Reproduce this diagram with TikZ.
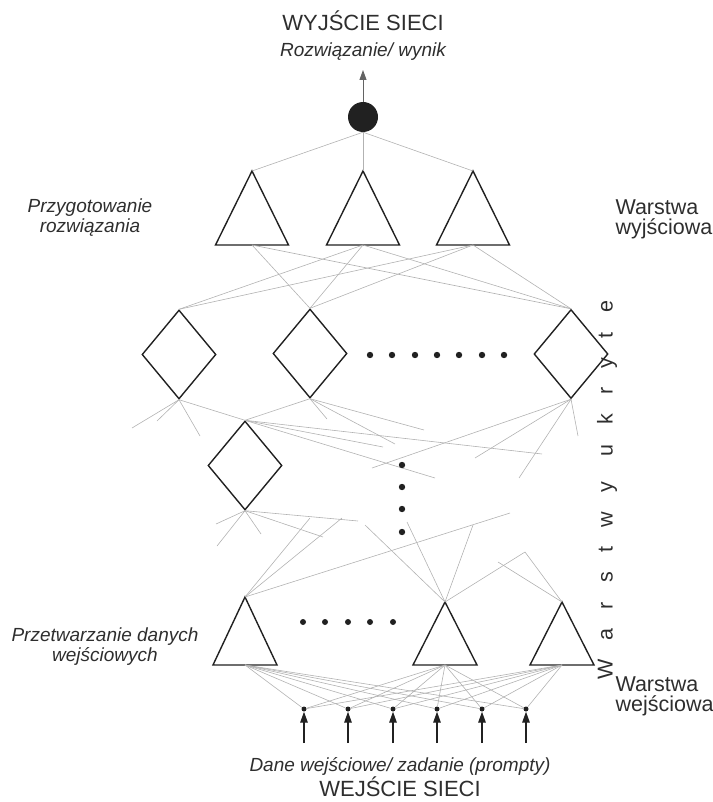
\documentclass[tikz,border=0pt]{standalone}
\usepackage{fontspec}
\setmainfont{Liberation Sans}
\usepackage{tikz}
\usetikzlibrary{arrows.meta,shapes.geometric}
\definecolor{netink}{rgb}{0.13,0.13,0.13}
\definecolor{nettext}{rgb}{0.18,0.18,0.18}
\definecolor{netlink}{rgb}{0.70,0.70,0.70}

\begin{document}
\begin{tikzpicture}[x=1pt,y=-1pt,>=Latex,
  link/.style={netlink,line width=0.6pt},
  cell/.style={draw=netink,line width=1.4pt,line join=miter},
  neuron/.style={cell,shape=diamond,minimum width=74pt,minimum height=89pt,inner sep=0pt},
  feed/.style={-{Triangle[length=11pt,width=7.5pt]},netink,line width=1.4pt},
  title/.style={text=nettext,font=\fontsize{22}{24}\selectfont},
  note/.style={text=nettext,font=\fontsize{19}{20}\selectfont\itshape,align=center},
  side/.style={text=nettext,font=\fontsize{21.5}{20}\selectfont,align=left}]
  \useasboundingbox (0,0) rectangle (712,802);
  \node[circle,fill=netink,minimum size=30pt,inner sep=0pt] (out) at (363,117) {};
  \foreach \n/\x/\y in {d1/179/354.5,d2/310/353.5,d3/571/354,d4/245/465.5}
    \node[neuron] (\n) at (\x,\y) {};
  \foreach \n/\x/\y/\w/\h in {o1/252/171/36.5/74,o2/363/171/36.5/74,o3/473/171/36.5/74,p1/245/597/32/68,p2/445/602/32/63,p3/562/602/32/63}{
    \draw[cell] (\x,\y) coordinate (\n) -- ++(\w,\h) -- ++(-2*\w,0) -- cycle;
    \coordinate (\n-b) at (\x,\y+\h);
  }
  \foreach \i/\x in {1/304,2/348,3/393,4/437,5/482,6/526}{
    \node[circle,fill=netink,minimum size=5pt,inner sep=0pt] (i\i) at (\x,709) {};
    \coordinate (s\i) at (\x,743);
  }
  \foreach \n/\x/\y in {a1/132/428,a2/157/421,a3/200/436,b1/327/419,b2/424/430,b3/395/444,
    c1/372/468,c2/475/458,c3/519/478,c4/578/436,e1/383/447,e2/542/454,e3/435/478,
    f1/216/524,f2/217/546,f3/261/534,f4/323/537,f5/358/521,g1/310/518,g2/342/518,g3/510/513,
    h1/365/525,h2/407/522,h3/473/525,k1/525/552,k2/498/562}
    \coordinate (\n) at (\x,\y);
  \coordinate (res) at (363,70);

  \draw[-{Triangle[length=10pt,width=7pt]},netlink!45!netink,line width=0.9pt] (out.north) -- (res);
  \foreach \t in {o1,o2,o3} \draw[link] (out.south) -- (\t);
  \foreach \t/\d in {o1/d2,o1/d3,o2/d1,o2/d2,o2/d3,o3/d1,o3/d2,o3/d3}
    \draw[link] (\t-b) -- (\d.north);
  \foreach \a/\b in {d1.south/d4.north,d1.south/a1,d1.south/a2,d1.south/a3,
    d2.south/d4.north,d2.south/b1,d2.south/b2,d2.south/b3,
    d3.south/c1,d3.south/c2,d3.south/c3,d3.south/c4,
    d4.north/e1,d4.north/e2,d4.north/e3,
    d4.south/f1,d4.south/f2,d4.south/f3,d4.south/f4,d4.south/f5,
    p1/g1,p1/g2,p1/g3,p2/h1,p2/h2,p2/h3,p2/k1,p3/k1,p3/k2}
    \draw[link] (\a) -- (\b);
  \foreach \t in {p1,p2,p3}
    \foreach \i in {1,...,6}
      \draw[link] (\t-b) -- (i\i);
  \foreach \i in {1,...,6} \draw[feed] (s\i) -- (i\i.south);

  \foreach \x in {370,392,415,437,459,482,504} \fill[netink] (\x,355) circle (3.2pt);
  \foreach \y in {465,487,509,532} \fill[netink] (402,\y) circle (3.2pt);
  \foreach \x in {303,325,348,370,393} \fill[netink] (\x,622) circle (3pt);

  \node[title,anchor=base] (toplabel) at (363,31) {WYJŚCIE SIECI};
  \node[note,anchor=base] (reslabel) at (363,57) {Rozwiązanie/ wynik};
  \node[note,anchor=base] (prep) at (90,233) {Przygotowanie\\rozwiązania};
  \node[note,anchor=base] (proc) at (105,661) {Przetwarzanie danych\\wejściowych};
  \node[side,anchor=base west] (outlayer) at (612,234) {Warstwa\\wyjściowa};
  \node[side,anchor=base west] (inlayer) at (612,711) {Warstwa\\wejściowa};
  \node[side,rotate=90] (hidlayer) at (607,490) {\addfontfeature{LetterSpace=90}Warstwy ukryte};
  \node[note,anchor=base] (prompt) at (400,771) {Dane wejściowe/ zadanie (prompty)};
  \node[title,anchor=base] (bottomlabel) at (400,796) {WEJŚCIE SIECI};
\end{tikzpicture}
\end{document}
